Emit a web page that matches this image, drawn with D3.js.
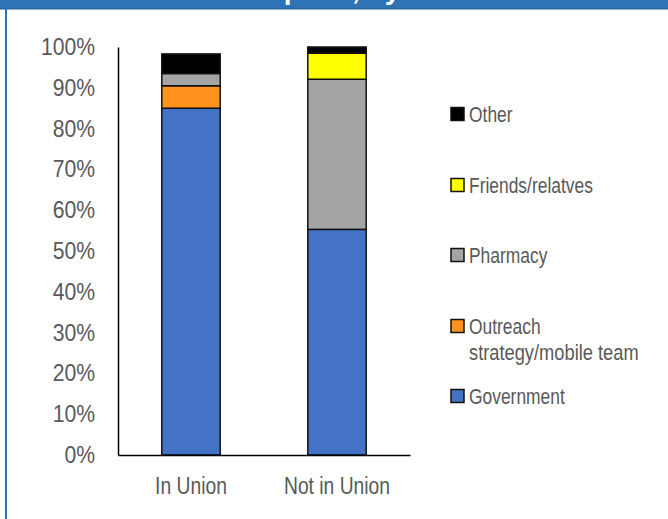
<!DOCTYPE html>
<html>
<head>
<meta charset="utf-8">
<script src="https://cdn.jsdelivr.net/npm/d3@7"></script>
<style>
  html, body { margin: 0; padding: 0; background: #fff; }
  svg { display: block; }
</style>
</head>
<body>
<svg id="chart" width="668" height="519"></svg>
<script>
const title = "Source of contraception, by status";
const categories = ["In Union", "Not in Union"];
const seriesNames = ["Government", "Outreach strategy/mobile team", "Pharmacy", "Friends/relatves", "Other"];
const government = [85.0, 55.3];
const outreach = [5.5, 0];
const pharmacy = [3.0, 36.8];
const friends = [0, 6.4];
const other = [4.8, 1.5];
const yTicks = [0, 10, 20, 30, 40, 50, 60, 70, 80, 90, 100];

const seriesValues = [government, outreach, pharmacy, friends, other];
const colors = ["#4472C4", "#FF931E", "#A5A5A5", "#FFFF00", "#000000"];
const legendLines = [["Government"], ["Outreach", "strategy/mobile team"], ["Pharmacy"], ["Friends/relatves"], ["Other"]];

const svg = d3.select("#chart");
const font = "'Liberation Sans', Arial, sans-serif";
const textColor = "#595959";

function condense(sel, factor) {
  sel.each(function () {
    const w = this.getComputedTextLength();
    d3.select(this).attr("textLength", w * factor).attr("lengthAdjust", "spacingAndGlyphs");
  });
}

// Frame: header band and left border
svg.append("rect").attr("x", 0).attr("y", 0).attr("width", 668).attr("height", 9).attr("fill", "#2E74B5");
svg.append("rect").attr("x", 0).attr("y", 8).attr("width", 668).attr("height", 1.5).attr("fill", "#24649F");
svg.append("rect").attr("x", 5).attr("y", 0).attr("width", 2).attr("height", 519).attr("fill", "#2E74B5");
svg.append("text").attr("x", 30).attr("y", -1.5)
  .attr("font-family", font).attr("font-weight", "bold")
  .attr("font-size", 28).attr("fill", "#fff").text(title);

const x = d3.scaleBand().domain(categories).range([118, 410]).paddingInner(0.6).paddingOuter(0.3);
const y = d3.scaleLinear().domain([0, 100]).range([455, 47]);

// Stack
const rows = categories.map((c, i) => {
  const r = { cat: c };
  seriesNames.forEach((s, j) => r[s] = seriesValues[j][i]);
  return r;
});
const stacked = d3.stack().keys(seriesNames)(rows);

const g = svg.append("g");
stacked.forEach((layer, j) => {
  g.selectAll(null).data(layer.filter(d => d[1] - d[0] > 0)).enter().append("rect")
    .attr("x", d => x(d.data.cat))
    .attr("width", x.bandwidth())
    .attr("y", d => y(d[1]))
    .attr("height", d => y(d[0]) - y(d[1]))
    .attr("fill", colors[j])
    .attr("stroke", "#111")
    .attr("stroke-width", 1.5);
});

// Y axis
const yAxis = d3.axisLeft(y).tickValues(yTicks).tickFormat(d => d + "%").tickSize(0).tickPadding(23);
const ya = svg.append("g").attr("transform", "translate(118,0)").call(yAxis);
ya.select(".domain").attr("stroke", "#000").attr("stroke-width", 1.5);
ya.selectAll("text").attr("font-family", font).attr("font-size", 23.5).attr("fill", textColor)
  .call(condense, 0.9);

// X axis
const xAxis = d3.axisBottom(x).tickSize(0).tickPadding(22);
const xa = svg.append("g").attr("transform", "translate(0,455)").call(xAxis);
xa.select(".domain").attr("stroke", "#000").attr("stroke-width", 1.5);
xa.selectAll("text").attr("font-family", font).attr("font-size", 23.5).attr("fill", textColor)
  .call(condense, 0.82);

// Legend (top to bottom: Other ... Government)
const legendY = [396, 326, 255, 185, 114];
seriesNames.forEach((s, j) => {
  const lg = svg.append("g");
  lg.append("rect").attr("x", 451).attr("y", legendY[j] - 6.5).attr("width", 13).attr("height", 13)
    .attr("fill", colors[j]).attr("stroke", "#111").attr("stroke-width", 1.5);
  legendLines[j].forEach((line, k) => {
    lg.append("text").attr("x", 469).attr("y", legendY[j] + 7.5 + k * 26.5)
      .attr("font-family", font).attr("font-size", 21.5).attr("fill", textColor).text(line)
      .call(condense, k === 1 ? 0.85 : 0.81);
  });
});
</script>
</body>
</html>
